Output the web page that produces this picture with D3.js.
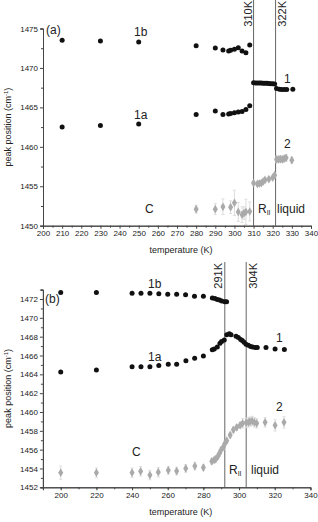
<!DOCTYPE html>
<head>
  <meta charset="UTF-8">
  <title>peak position</title>
  <style>
  body{ margin:0; background:#fff; }
  svg text{ font-family:"Liberation Sans", Arial, sans-serif; fill:#222; }
  </style>
</head>
<body>
  <script src="https://cdn.jsdelivr.net/npm/d3@7/dist/d3.min.js"></script>
  <script type="text/javascript">
  // ---- panel (a) data ----
  var aT1b = [210, 230, 250, 280, 290, 294, 297, 298, 300, 302, 304, 306, 308];
  var aV1b = [1473.5, 1473.4, 1473.3, 1472.82, 1472.53, 1472.27, 1472.14, 1472.23, 1472.36, 1472.57, 1472.14, 1471.93, 1472.91];
  var aT1a = [210, 230, 250, 280, 290, 294, 297, 298, 300, 302, 304, 306, 308];
  var aV1a = [1462.5, 1462.7, 1462.9, 1464.11, 1464.53, 1464.11, 1464.15, 1464.23, 1464.32, 1464.4, 1464.49, 1464.74, 1465.21];
  var aT1 = [310, 311, 312, 313, 314, 315, 316, 317, 318, 319, 320, 321, 322, 323.5, 324.7, 326, 327.3, 330.5];
  var aV1 = [1468.12, 1468.1, 1468.1, 1468.08, 1468.08, 1468.05, 1468.05, 1468.05, 1468.02, 1468.0, 1468.0, 1467.95, 1467.4, 1467.3, 1467.28, 1467.28, 1467.28, 1467.3];
  var aT2 = [280, 290, 294, 298, 300, 302, 304, 305, 306, 308, 310, 312, 313, 314, 315, 316, 318, 320, 321, 322, 323, 324, 325, 326, 327, 330];
  var aV2 = [1452.1, 1452.1, 1452.4, 1452.35, 1452.9, 1451.75, 1451.4, 1451.6, 1451.75, 1451.8, 1455.4, 1455.3, 1455.35, 1455.4, 1455.6, 1455.8, 1455.9, 1456.1, 1456.4, 1458.4, 1458.4, 1458.45, 1458.4, 1458.5, 1458.6, 1458.3];
  var aE2 = [0.5, 0.7, 1.0, 0.8, 1.6, 1.2, 1.0, 0.8, 1.6, 1.2, 0.3, 0.3, 0.3, 0.3, 0.3, 0.3, 0.3, 0.3, 0.3, 0.4, 0.4, 0.4, 0.4, 0.4, 0.4, 0.4];
  var aLines = [321.5 - 11.5, 321.5];
  var aLineLabels = ['310K', '322K'];
  var aXTicks = [200, 210, 220, 230, 240, 250, 260, 270, 280, 290, 300, 310, 320, 330, 340];
  var aYTicks = [1450, 1455, 1460, 1465, 1470, 1475];

  // ---- panel (b) data ----
  var bT1b = [200, 220, 240, 245, 250, 255, 260, 265, 270, 275, 280, 285, 286.5, 287.8, 289, 290.3, 292, 293];
  var bV1b = [1472.7, 1472.7, 1472.6, 1472.6, 1472.6, 1472.55, 1472.5, 1472.5, 1472.45, 1472.3, 1472.3, 1472.1, 1472.05, 1471.95, 1471.9, 1471.8, 1471.7, 1471.7];
  var bT1a = [200, 220, 240, 245, 250, 255, 260.3, 265, 270.2, 275.1, 280, 285, 286.1, 287.8, 289.3, 290.2, 291.7, 293.1, 294.5, 295.5, 298.3, 299.6, 300.9, 301.8, 302.8, 303.9, 305.2, 306.5, 307.6, 309.1, 310.2, 315.1, 320.2, 325.4];
  var bV1a = [1464.25, 1464.45, 1464.8, 1464.8, 1464.8, 1464.95, 1465.06, 1465.06, 1465.45, 1465.7, 1465.95, 1466.6, 1466.7, 1466.9, 1467.3, 1467.5, 1467.65, 1468.2, 1468.3, 1468.2, 1468.05, 1467.9, 1467.7, 1467.6, 1467.4, 1467.2, 1467.1, 1466.95, 1466.9, 1466.85, 1466.85, 1466.85, 1466.7, 1466.65];
  var bT2 = [200, 220, 240, 244.8, 250, 254.7, 260.3, 265, 270.1, 275.2, 280, 284.7, 286, 286.9, 288, 289, 289.9, 291.2, 292.1, 293.1, 295, 296.8, 298.7, 300.6, 302, 304, 305.2, 306.1, 307.3, 308.6, 309.9, 314.6, 320.2, 325.2];
  var bV2 = [1453.55, 1453.55, 1453.55, 1453.7, 1453.3, 1453.6, 1453.8, 1453.73, 1454.0, 1454.26, 1454.1, 1454.76, 1454.9, 1455.0, 1455.25, 1455.6, 1455.96, 1456.3, 1456.67, 1456.95, 1457.55, 1458.1, 1458.37, 1458.6, 1458.8, 1458.86, 1458.9, 1458.97, 1459.04, 1458.9, 1458.8, 1458.9, 1458.58, 1458.9];
  var bE2 = [0.7, 0.5, 0.5, 0.5, 0.5, 0.5, 0.4, 0.4, 0.4, 0.4, 0.3, 0.3, 0.3, 0.3, 0.3, 0.3, 0.3, 0.3, 0.3, 0.3, 0.3, 0.3, 0.3, 0.3, 0.5, 0.5, 0.5, 0.5, 0.5, 0.5, 0.5, 0.5, 0.6, 0.6];
  var bLines = [292, 304];
  var bLineLabels = ['291K', '304K'];
  var bXTicks = [200, 220, 240, 260, 280, 300, 320, 340];
  var bYTicks = [1452, 1454, 1456, 1458, 1460, 1462, 1464, 1466, 1468, 1470, 1472];

  var svg = d3.select('body').append('svg')
    .attr('width', 318)
    .attr('height', 522);

  function zip(t, v, e){
    return t.map(function(d, i){ return {t: d, v: v[i], e: e ? e[i] : 0}; });
  }

  function drawPanel(p){
    var g = svg.append('g');
    var x = d3.scaleLinear().domain(p.xDomain).range([p.left, p.right]);
    var y = d3.scaleLinear().domain(p.yDomain).range([p.bottom, p.top]);

    // vertical transition lines
    g.selectAll('line.tr').data(p.lines).enter().append('line')
      .attr('x1', d => x(d)).attr('x2', d => x(d))
      .attr('y1', p.lineTop).attr('y2', p.bottom)
      .attr('stroke', '#666').attr('stroke-width', 1);
    g.selectAll('text.tr').data(p.lines).enter().append('text')
      .attr('transform', (d, i) => 'translate(' + (x(d) + p.lineLabelDx[i]) + ',' + (p.lineTop + 1) + ') rotate(-90)')
      .attr('text-anchor', 'end')
      .attr('font-size', 11)
      .text((d, i) => p.lineLabels[i]);

    // axes
    var xAxis = d3.axisBottom(x).tickValues(p.xTicks).tickSize(3).tickPadding(2).tickFormat(d3.format('d'));
    var xMinor = d3.axisBottom(x).tickValues(p.xMinor).tickSize(2).tickFormat('');
    var yAxis = d3.axisLeft(y).tickValues(p.yTicks).tickSize(3).tickPadding(2).tickFormat(d3.format('d'));
    var yMinor = d3.axisLeft(y).tickValues(p.yMinor).tickSize(2).tickFormat('');
    [xAxis, xMinor].forEach(function(a){
      g.append('g').attr('transform', 'translate(0,' + p.bottom + ')').call(a);
    });
    [yAxis, yMinor].forEach(function(a){
      g.append('g').attr('transform', 'translate(' + p.left + ',0)').call(a);
    });
    g.selectAll('.domain').attr('stroke', '#444');
    g.selectAll('.tick line').attr('stroke', '#444');
    g.selectAll('.tick text').attr('font-size', 8).attr('fill', '#333')
      .attr('font-family', '"Liberation Sans", Arial, sans-serif');

    // error bars
    g.selectAll('line.err').data(p.s2).enter().append('line')
      .attr('x1', d => x(d.t)).attr('x2', d => x(d.t))
      .attr('y1', d => y(d.v - d.e)).attr('y2', d => y(d.v + d.e))
      .attr('stroke', '#ddd').attr('stroke-width', 1);
    g.selectAll('line.cap').data(p.s2.concat(p.s2.map(d => ({t: d.t, v: d.v, e: -d.e})))).enter().append('line')
      .attr('x1', d => x(d.t) - 1.5).attr('x2', d => x(d.t) + 1.5)
      .attr('y1', d => y(d.v + d.e)).attr('y2', d => y(d.v + d.e))
      .attr('stroke', '#ddd').attr('stroke-width', 1);

    // grey diamonds
    g.selectAll('path.dia').data(p.s2).enter().append('path')
      .attr('transform', d => 'translate(' + x(d.t) + ',' + y(d.v) + ')')
      .attr('d', d3.symbol().type(d3.symbolDiamond).size(22))
      .attr('fill', '#aaa');

    // black circles
    g.selectAll('circle').data(p.s1).enter().append('circle')
      .attr('cx', d => x(d.t)).attr('cy', d => y(d.v)).attr('r', 2.5)
      .attr('fill', '#111');

    // annotations
    g.selectAll('text.ann').data(p.labels).enter().append('text')
      .attr('x', d => d[1]).attr('y', d => d[2])
      .attr('font-size', d => d[3] || 12)
      .text(d => d[0]);
    var r = g.append('text').attr('x', p.rII[0]).attr('y', p.rII[1]).attr('font-size', 12);
    r.append('tspan').text('R');
    r.append('tspan').attr('font-size', 7).attr('dy', 2).text('II');
    g.append('text').attr('x', p.rII[2]).attr('y', p.rII[1]).attr('font-size', 12).text('liquid');

    // axis titles
    g.append('text').attr('x', (p.left + p.right) / 2 + 4).attr('y', p.xTitleY)
      .attr('text-anchor', 'middle').attr('font-size', 9).text('temperature (K)');
    var yt = g.append('text')
      .attr('transform', 'translate(11,' + (p.top + p.bottom) / 2 + ') rotate(-90)')
      .attr('text-anchor', 'middle').attr('font-size', 9);
    yt.append('tspan').text('peak position (cm');
    yt.append('tspan').attr('font-size', 6).attr('dy', -3).text('-1');
    yt.append('tspan').attr('dy', 3).text(')');
  }

  drawPanel({
    xDomain: [200, 340], yDomain: [1450, 1475],
    left: 43, right: 311, top: 28.5, bottom: 225.7, lineTop: 0,
    xTicks: aXTicks, xMinor: d3.range(205, 340, 10),
    yTicks: aYTicks, yMinor: d3.range(1452.5, 1475, 5),
    lines: aLines, lineLabels: aLineLabels, lineLabelDx: [-2, 10],
    s1: zip(aT1b, aV1b).concat(zip(aT1a, aV1a), zip(aT1, aV1)),
    s2: zip(aT2, aV2, aE2),
    labels: [['(a)', 46, 34], ['1b', 134, 36], ['1a', 134, 119], ['1', 284, 83], ['2', 284, 148], ['C', 145, 213]],
    rII: [258, 213, 277],
    xTitleY: 253
  });

  drawPanel({
    xDomain: [190, 340], yDomain: [1452, 1473],
    left: 42.9, right: 310.4, top: 289.6, bottom: 487.3, lineTop: 262,
    xTicks: bXTicks, xMinor: d3.range(190, 340, 10),
    yTicks: bYTicks, yMinor: d3.range(1453, 1474, 2),
    lines: bLines, lineLabels: bLineLabels, lineLabelDx: [-3, 11],
    s1: zip(bT1b, bV1b).concat(zip(bT1a, bV1a)),
    s2: zip(bT2, bV2, bE2),
    labels: [['(b)', 45, 303], ['1b', 148, 288], ['1a', 148, 361], ['1', 276, 342], ['2', 276, 411], ['C', 132, 456]],
    rII: [229, 474, 251],
    xTitleY: 515
  });
  </script>
</body>
</html>
